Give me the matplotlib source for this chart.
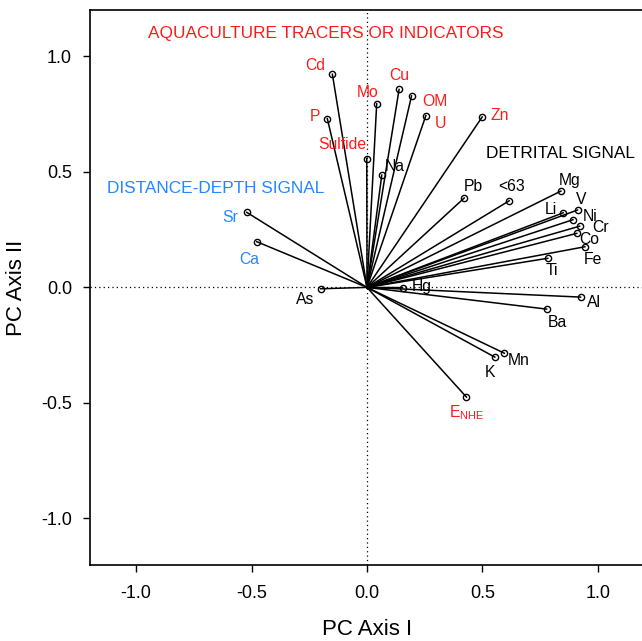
import matplotlib
matplotlib.use("Agg")
import matplotlib.pyplot as plt

plt.rcParams['font.family'] = ['Liberation Sans', 'DejaVu Sans']

# variable loadings on PC axes I and II
names = ['Cd', 'Mo', 'Cu', 'OM', 'U', 'Zn', 'P', 'Sulfide', 'Na', 'Pb', '<63',
         'Mg', 'V', 'Li', 'Ni', 'Cr', 'Co', 'Fe', 'Ti', 'Al', 'Ba', 'Mn', 'K',
         'E$_{\\mathregular{NHE}}$', 'As', 'Hg', 'Sr', 'Ca']
pc1 = [-0.150, 0.042, 0.139, 0.193, 0.255, 0.499, -0.172, -0.001, 0.064, 0.421, 0.616,
       0.840, 0.912, 0.850, 0.892, 0.921, 0.909, 0.944, 0.783, 0.925, 0.778, 0.595, 0.554,
       0.431, -0.201, 0.154, -0.521, -0.478]
pc2 = [0.923, 0.795, 0.857, 0.829, 0.744, 0.738, 0.731, 0.558, 0.486, 0.387, 0.375,
       0.417, 0.335, 0.323, 0.293, 0.265, 0.234, 0.176, 0.126, -0.042, -0.094, -0.285, -0.302,
       -0.475, -0.006, -0.001, 0.325, 0.198]
groups = ['aqua', 'aqua', 'aqua', 'aqua', 'aqua', 'aqua', 'aqua', 'aqua', 'det', 'det', 'det',
          'det', 'det', 'det', 'det', 'det', 'det', 'det', 'det', 'det', 'det', 'det', 'det',
          'aqua', 'det', 'det', 'dist', 'dist']

# where each label sits
lab_x = [-0.225, 0.003, 0.140, 0.294, 0.316, 0.573, -0.225, -0.107, 0.121, 0.460, 0.626,
         0.879, 0.926, 0.797, 0.965, 1.012, 0.965, 0.977, 0.800, 0.983, 0.826, 0.658, 0.532,
         0.431, -0.268, 0.237, -0.593, -0.509]
lab_y = [0.962, 0.846, 0.919, 0.803, 0.710, 0.746, 0.741, 0.620, 0.525, 0.436, 0.436,
         0.462, 0.381, 0.338, 0.306, 0.259, 0.208, 0.122, 0.073, -0.066, -0.150, -0.316, -0.368,
         -0.544, -0.054, 0.003, 0.303, 0.122]

colors = {'aqua': '#ff1a1a', 'dist': '#2288ff', 'det': 'black'}

fig = plt.figure(figsize=(6.42, 6.41), dpi=100)
ax = fig.add_axes([0.1402, 0.1193, 0.8629, 0.8647])

ax.axhline(0, color='black', lw=0.9, ls=(0, (1, 2.5)), zorder=1)
ax.axvline(0, color='black', lw=0.9, ls=(0, (1, 2.5)), zorder=1)

for x, y in zip(pc1, pc2):
    ax.plot([0, x], [0, y], color='black', lw=1.1, zorder=2)
ax.plot(pc1, pc2, 'o', ms=4.5, mfc='none', mec='black', mew=1.0, zorder=3)

for name, g, tx, ty in zip(names, groups, lab_x, lab_y):
    ax.text(tx, ty, name, color=colors[g], fontsize=11.3, ha='center', va='center')

ax.text(-0.177, 1.10, 'AQUACULTURE TRACERS OR INDICATORS', color=colors['aqua'],
        fontsize=12.4, ha='center', va='center')
ax.text(-0.654, 0.430, 'DISTANCE-DEPTH SIGNAL', color=colors['dist'],
        fontsize=12.4, ha='center', va='center')
ax.text(0.84, 0.581, 'DETRITAL SIGNAL', color='black',
        fontsize=12.4, ha='center', va='center')

ax.set_xlim(-1.2, 1.2)
ax.set_ylim(-1.2, 1.2)
ticks = [-1.0, -0.5, 0.0, 0.5, 1.0]
ax.set_xticks(ticks)
ax.set_yticks(ticks)
ax.set_xticklabels([f'{t:.1f}' for t in ticks])
ax.set_yticklabels([f'{t:.1f}' for t in ticks])
ax.tick_params(axis='x', direction='out', length=5, width=1, labelsize=13, pad=10)
ax.tick_params(axis='y', direction='out', length=5, width=1, labelsize=13, pad=8)
ax.set_xlabel('PC Axis I', fontsize=16, labelpad=12)
ax.set_ylabel('PC Axis II', fontsize=16, labelpad=10)
for s in ax.spines.values():
    s.set_linewidth(1.2)

fig.savefig('out.png', dpi=100)
